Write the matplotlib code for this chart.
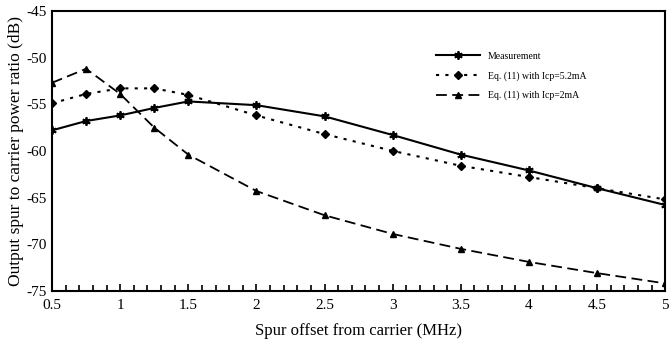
import matplotlib
matplotlib.use("Agg")
import matplotlib.pyplot as plt
from matplotlib.ticker import MultipleLocator

plt.rcParams['font.family'] = ['Liberation Serif', 'DejaVu Serif']
plt.rcParams['axes.unicode_minus'] = False

# spur offsets (MHz)
offset = [0.5, 0.75, 1, 1.25, 1.5, 2, 2.5, 3, 3.5, 4, 4.5, 5]
measured = [-57.8, -56.8, -56.2, -55.4, -54.7, -55.1, -56.3, -58.3, -60.4, -62.1, -64.0, -65.8]
eq_52ma = [-54.9, -53.9, -53.3, -53.3, -54.0, -56.2, -58.2, -60.0, -61.6, -62.8, -64.0, -65.2]
eq_2ma = [-52.7, -51.2, -53.9, -57.5, -60.4, -64.3, -66.9, -68.9, -70.5, -71.9, -73.1, -74.2]

fig = plt.figure(figsize=(6.71, 3.41), dpi=100)
ax = fig.add_axes([0.0775, 0.147, 0.914, 0.821])

ax.plot(offset, measured, color='black', lw=1.5, marker=(6, 2, 0), ms=6, mew=1.3,
        label='Measurement')
ax.plot(offset, eq_52ma, color='black', lw=1.5, ls=(0, (1.5, 3)), marker='D', ms=4,
        label='Eq. (11) with Icp=5.2mA')
ax.plot(offset, eq_2ma, color='black', lw=1.3, ls=(0, (6, 3)), marker='^', ms=4,
        label='Eq. (11) with Icp=2mA')

ax.set_xlim(0.5, 5)
ax.set_ylim(-75, -45)
ax.xaxis.set_major_locator(MultipleLocator(0.5))
ax.xaxis.set_minor_locator(MultipleLocator(0.1))
ax.yaxis.set_major_locator(MultipleLocator(5))
ax.tick_params(axis='x', which='both', direction='in', top=False, labelsize=11, pad=6)
ax.tick_params(axis='x', which='major', length=5, width=1.2)
ax.tick_params(axis='x', which='minor', length=4, width=1.2)
ax.tick_params(axis='y', direction='in', length=0, labelsize=11)
ax.set_xticklabels([f'{v:g}' for v in ax.get_xticks()])
for s in ax.spines.values():
    s.set_linewidth(1.5)

ax.set_xlabel('Spur offset from carrier (MHz)', fontsize=12, labelpad=8)
ax.set_ylabel('Output spur to carrier power ratio (dB)', fontsize=12.5, labelpad=2)

leg = ax.legend(loc='upper left', bbox_to_anchor=(0.612, 0.885), frameon=False,
                fontsize=7, handlelength=4.5, labelspacing=1.05)

fig.savefig('out.png', dpi=100)
